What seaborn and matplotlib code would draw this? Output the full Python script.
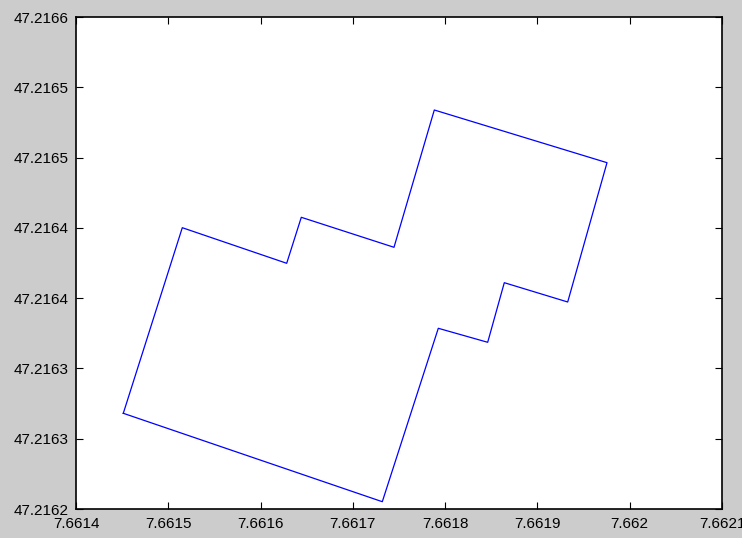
import matplotlib
matplotlib.use("Agg")
import matplotlib.pyplot as plt
import seaborn as sns
import pandas as pd

# polygon vertices (longitude, latitude)
lon = [7.66145125, 7.66151518, 7.66162831, 7.66164413, 7.66174458, 7.66178825,
       7.66197539, 7.66193280, 7.66186410, 7.66184611, 7.66179259, 7.66173190]
lat = [47.21626808, 47.21640011, 47.21637479, 47.21640751, 47.21638617, 47.21648384,
       47.21644636, 47.21634726, 47.21636099, 47.21631859, 47.21632855, 47.21620519]

xticks = [7.6614, 7.6615, 7.6616, 7.6617, 7.6618, 7.6619, 7.6620, 7.6621]
xtick_labels = ["7.6614", "7.6615", "7.6616", "7.6617", "7.6618", "7.6619", "7.662", "7.6621"]
yticks = [47.2162, 47.21625, 47.2163, 47.21635, 47.2164, 47.21645, 47.2165, 47.21655]
ytick_labels = ["47.2162", "47.2163", "47.2163", "47.2164", "47.2164", "47.2165", "47.2165", "47.2166"]

df = pd.DataFrame({"lon": lon + [lon[0]], "lat": lat + [lat[0]],
                   "order": list(range(len(lon) + 1))})

plt.rcParams["font.family"] = ["Liberation Sans", "DejaVu Sans"]

fig = plt.figure(figsize=(7.42, 5.38), dpi=100, facecolor="#cccccc")
ax = fig.add_axes([76 / 742, 1 - 509 / 538, (722 - 76) / 742, (509 - 17) / 538])
ax.set_facecolor("white")

sns.lineplot(data=df, x="lon", y="lat", sort=False, estimator=None,
             color="#0000ff", linewidth=0.9, ax=ax)

ax.set_xlim(7.6614, 7.6621)
ax.set_ylim(47.2162, 47.21655)
ax.set_xticks(xticks)
ax.set_xticklabels(xtick_labels)
ax.set_yticks(yticks)
ax.set_yticklabels(ytick_labels)
ax.set_xlabel("")
ax.set_ylabel("")
ax.tick_params(direction="in", length=5, width=0.8, top=True, right=True,
               labelsize=11, colors="black")
ax.tick_params(axis="x", pad=6)
ax.tick_params(axis="y", pad=5)
for sp in ax.spines.values():
    sp.set_color("black")
    sp.set_linewidth(1.2)

fig.savefig("out.png", dpi=100, facecolor=fig.get_facecolor())
